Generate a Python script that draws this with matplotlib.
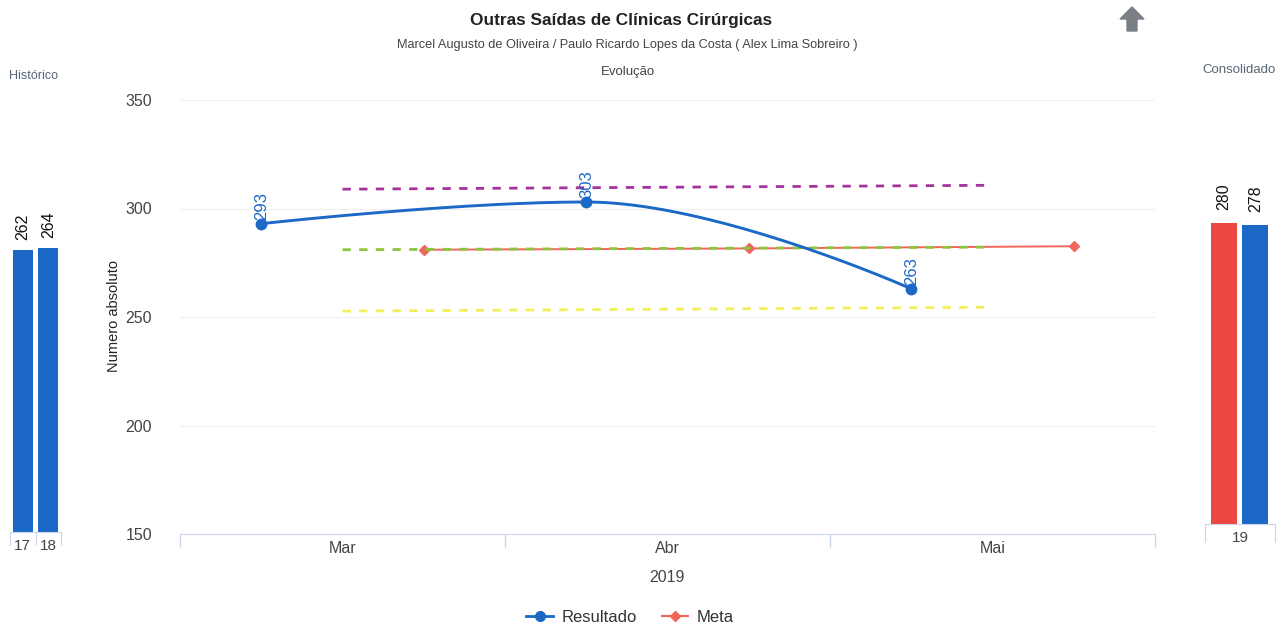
import matplotlib
matplotlib.use('Agg')
import matplotlib.pyplot as plt
from matplotlib.lines import Line2D
from matplotlib.patches import Polygon
import numpy as np

plt.rcParams['font.family'] = ['Liberation Sans', 'DejaVu Sans']

# Evolution chart (main panel)
months = ['Mar', 'Abr', 'Mai']
resultado = [293, 303, 263]
meta = [281.0, 281.6, 282.6]
trend_purple = [308.9, 309.8, 310.7]
trend_green = [281.0, 281.6, 282.2]
trend_yellow = [252.7, 253.6, 254.5]

# Histórico panel
hist_years = ['17', '18']
hist_values = [262, 264]

# Consolidado panel
cons_year = '19'
cons_meta = 280
cons_resultado = 278

BLUE = '#1c68c6'
RED = '#e9473f'
META_RED = '#f0665a'
AXIS = '#ccd6eb'
W, H = 1285, 628


def fx(px):
    return px / W


def fy(py):
    return 1 - py / H


def hc_spline(xs, ys, smoothing=1.5, n=80):
    # Highcharts-style spline: cubic bezier with flattened extremes
    xs = np.asarray(xs, float)
    ys = np.asarray(ys, float)
    k = len(xs)
    left = [(xs[i], ys[i]) for i in range(k)]
    right = [(xs[i], ys[i]) for i in range(k)]
    for j in range(1, k - 1):
        s = smoothing
        lx = (s * xs[j] + xs[j - 1]) / (s + 1)
        ly = (s * ys[j] + ys[j - 1]) / (s + 1)
        rx = (s * xs[j] + xs[j + 1]) / (s + 1)
        ry = (s * ys[j] + ys[j + 1]) / (s + 1)
        corr = ((ry - ly) * (rx - xs[j])) / (rx - lx) + ys[j] - ry
        ly += corr
        ry += corr
        if ly > ys[j - 1] and ly > ys[j]:
            ly = max(ys[j - 1], ys[j])
            ry = 2 * ys[j] - ly
        elif ly < ys[j - 1] and ly < ys[j]:
            ly = min(ys[j - 1], ys[j])
            ry = 2 * ys[j] - ly
        if ry > ys[j + 1] and ry > ys[j]:
            ry = max(ys[j + 1], ys[j])
            ly = 2 * ys[j] - ry
        elif ry < ys[j + 1] and ry < ys[j]:
            ry = min(ys[j + 1], ys[j])
            ly = 2 * ys[j] - ry
        left[j] = (lx, ly)
        right[j] = (rx, ry)
    t = np.linspace(0, 1, n)[:, None]
    out = []
    for i in range(k - 1):
        p0 = np.array([xs[i], ys[i]])
        p1 = np.array(right[i])
        p2 = np.array(left[i + 1])
        p3 = np.array([xs[i + 1], ys[i + 1]])
        seg = ((1 - t) ** 3) * p0 + 3 * ((1 - t) ** 2) * t * p1 \
            + 3 * (1 - t) * t ** 2 * p2 + t ** 3 * p3
        out.append(seg)
    pts = np.vstack(out)
    return pts[:, 0], pts[:, 1]


fig = plt.figure(figsize=(W / 100, H / 100), dpi=100)

# ---- main evolution panel
ax = fig.add_axes([fx(180), fy(534), fx(1155) - fx(180), fy(100) - fy(534)])
cat = np.arange(len(months))
x_res = cat - 0.25
x_meta = cat + 0.25

for yv in (200, 250, 300, 350):
    ax.axhline(yv, color='#f1f1f1', lw=0.9, zorder=0)

ax.plot(cat, trend_purple, color='#a4339c', lw=2.0, dashes=(3, 3), zorder=2)
ax.plot(cat, trend_yellow, color='#f2f05a', lw=2.0, dashes=(3, 3), zorder=2)
ax.plot(x_meta, meta, color=META_RED, lw=1.4, marker='D', markersize=5,
        zorder=3)
ax.plot(cat, trend_green, color='#8cc63e', lw=2.0, dashes=(3, 3), zorder=4)

sx, sy = hc_spline(x_res, resultado)
ax.plot(sx, sy, color=BLUE, lw=2.1, zorder=5)
ax.plot(x_res, resultado, 'o', color=BLUE, markersize=7.5, zorder=6)
for xv, yv in zip(x_res, resultado):
    ax.annotate('%d' % yv, (xv, yv), xytext=(0.5, 3),
                textcoords='offset points', rotation=90, ha='center',
                va='bottom', color=BLUE, fontsize=12, zorder=7)

ax.set_xlim(-0.5, 2.5)
ax.set_ylim(150, 350)
ax.set_yticks([150, 200, 250, 300, 350])
ax.tick_params(axis='y', length=0, labelsize=11.5, labelcolor='#444444',
               pad=20)
ax.set_xticks([-0.5, 0.5, 1.5, 2.5])
ax.set_xticklabels([])
ax.set_xticks(cat, minor=True)
ax.set_xticklabels(months, minor=True)
ax.tick_params(axis='x', which='major', direction='out', length=9,
               color=AXIS, width=1)
ax.tick_params(axis='x', which='minor', length=0, labelsize=11.5,
               labelcolor='#444444', pad=5)
for side in ('top', 'right', 'left'):
    ax.spines[side].set_visible(False)
ax.spines['bottom'].set_color(AXIS)
ax.patch.set_alpha(0)

# ---- Histórico panel
axl = fig.add_axes([fx(10), fy(532), fx(61) - fx(10), 323 / H])
hx = np.arange(len(hist_years))
axl.bar(hx, hist_values, width=0.78, color=BLUE)
for xv, yv in zip(hx, hist_values):
    axl.annotate('%d' % yv, (xv, yv), xytext=(0, 7),
                 textcoords='offset points', rotation=90, ha='center',
                 va='bottom', color='#111111', fontsize=11.5)
axl.set_xlim(-0.5, len(hist_years) - 0.5)
axl.set_ylim(0, 300)
axl.set_yticks([])
axl.set_xticks(np.arange(len(hist_years) + 1) - 0.5)
axl.set_xticklabels([])
axl.set_xticks(hx, minor=True)
axl.set_xticklabels(hist_years, minor=True)
axl.tick_params(axis='x', which='major', direction='out', length=9,
                color=AXIS)
axl.tick_params(axis='x', which='minor', length=0, labelsize=11,
                labelcolor='#444444', pad=5)
for side in ('top', 'right', 'left'):
    axl.spines[side].set_visible(False)
axl.spines['bottom'].set_color(AXIS)

# ---- Consolidado panel
axr = fig.add_axes([fx(1205), fy(524), fx(1275) - fx(1205), 323 / H])
axr.bar([-0.23], [cons_meta], width=0.37, color=RED)
axr.bar([0.22], [cons_resultado], width=0.37, color=BLUE)
for xv, yv in ((-0.23, cons_meta), (0.22, cons_resultado)):
    axr.annotate('%d' % yv, (xv, yv), xytext=(0, 9),
                 textcoords='offset points', rotation=90, ha='center',
                 va='bottom', color='#111111', fontsize=11.5)
axr.set_xlim(-0.5, 0.5)
axr.set_ylim(0, 300)
axr.set_yticks([])
axr.set_xticks([-0.5, 0.5])
axr.set_xticklabels([])
axr.set_xticks([0], minor=True)
axr.set_xticklabels([cons_year], minor=True)
axr.tick_params(axis='x', which='major', direction='out', length=13,
                color=AXIS)
axr.tick_params(axis='x', which='minor', length=0, labelsize=11,
                labelcolor='#444444', pad=5)
for side in ('top', 'right', 'left'):
    axr.spines[side].set_visible(False)
axr.spines['bottom'].set_color(AXIS)

# ---- texts
fig.text(fx(621), fy(20), 'Outras Saídas de Clínicas Cirúrgicas',
         ha='center', va='center', fontsize=12.4, fontweight='bold',
         color='#222222')
fig.text(fx(627), fy(45),
         'Marcel Augusto de Oliveira / Paulo Ricardo Lopes da Costa '
         '( Alex Lima Sobreiro )',
         ha='center', va='center', fontsize=9.2, color='#444444')
fig.text(fx(628), fy(72), 'Evolução', ha='center', va='center',
         fontsize=9.5, color='#444444')
fig.text(fx(34), fy(76), 'Histórico', ha='center', va='center',
         fontsize=9, color='#556677')
fig.text(fx(1239), fy(70), 'Consolidado', ha='center', va='center',
         fontsize=9.5, color='#556677')
fig.text(fx(667), fy(578), '2019', ha='center', va='center',
         fontsize=11.5, color='#444444')
fig.text(fx(114), fy(316), 'Numero absoluto', ha='center', va='center',
         rotation=90, fontsize=10.5, color='#222222')

# up arrow icon
arrow_px = [(1132, 7), (1144, 19), (1137, 19), (1137, 31), (1127, 31),
            (1127, 19), (1120, 19)]
fig.add_artist(Polygon([(fx(a), fy(b)) for a, b in arrow_px], closed=True,
                       transform=fig.transFigure, color='#7a7f86'))

# legend
handles = [Line2D([], [], color=BLUE, lw=2, marker='o', markersize=7),
           Line2D([], [], color=META_RED, lw=1.5, marker='D', markersize=5)]
fig.legend(handles, ['Resultado', 'Meta'], loc='center',
           bbox_to_anchor=(fx(630), fy(617)), ncol=2, frameon=False,
           fontsize=12, handlelength=1.6, columnspacing=1.5,
           handletextpad=0.5, labelcolor='#333333')

fig.savefig('out.png', dpi=100)
